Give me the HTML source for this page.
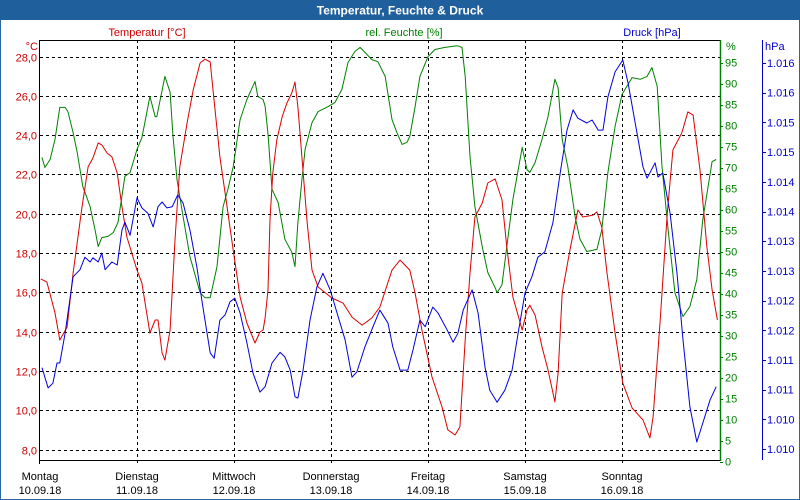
<!DOCTYPE html>
<html><head><meta charset="utf-8"><style>
html,body{margin:0;padding:0;background:#fff;}
svg{display:block;font-family:"Liberation Sans",sans-serif;}
</style></head><body>
<svg id="chart" width="800" height="500" viewBox="0 0 800 500">
<rect x="0.5" y="0.5" width="799" height="499" fill="#fff" stroke="#2b67a3"/>
<rect x="0" y="0" width="800" height="20" fill="#1f5f9b"/>
<text x="400" y="14.5" text-anchor="middle" font-size="12" font-weight="bold" fill="#fff">Temperatur, Feuchte &amp; Druck</text>
<text x="147" y="36" text-anchor="middle" font-size="11" fill="#cc0000">Temperatur [°C]</text>
<text x="404" y="36" text-anchor="middle" font-size="11" fill="#008000">rel. Feuchte [%]</text>
<text x="652" y="36" text-anchor="middle" font-size="11" fill="#0000cc">Druck [hPa]</text>
<text x="38" y="50" text-anchor="end" font-size="11" fill="#cc0000">°C</text>
<text x="726" y="50" font-size="11" fill="#008000">%</text>
<text x="765" y="50" font-size="11" fill="#0000cc">hPa</text>
<g id="grid"></g>
<g id="axes"></g>
<g id="series"></g>
</svg>
<script>
const dayNames = ["Montag","Dienstag","Mittwoch","Donnerstag","Freitag","Samstag","Sonntag"];
const dayDates = ["10.09.18","11.09.18","12.09.18","13.09.18","14.09.18","15.09.18","16.09.18"];
const tempTicks = [28,26,24,22,20,18,16,14,12,10,8];
const humTicks = [95,90,85,80,75,70,65,60,55,50,45,40,35,30,25,20,15,10,5,0];
const pressTicks = [1016.5,1016,1015.5,1015,1014.5,1014,1013.5,1013,1012.5,1012,1011.5,1011,1010.5,1010];
const pressTickLabels = ["1.016","1.016","1.015","1.015","1.014","1.014","1.013","1.013","1.012","1.012","1.011","1.011","1.010","1.010"];

const tempHours = [0.2,1.7,3.7,4.9,6.7,8.2,10.4,11.9,13.1,14.4,15.3,16.6,17.8,19.1,20.3,21.5,24.0,25.2,27.2,28.5,29.2,30.2,30.9,32.2,33.4,34.6,36.4,37.9,39.6,40.8,42.1,42.8,44.5,46.3,47.8,49.5,51.2,53.2,54.4,55.2,55.7,56.4,56.9,57.6,58.6,59.9,61.1,62.3,63.1,63.8,64.8,66.1,67.3,68.8,72.2,75.0,77.2,79.7,82.1,84.1,87.1,89.1,91.5,92.8,94.5,97.0,99.5,100.9,102.7,103.9,105.2,106.4,107.6,109.4,110.8,112.6,114.3,115.5,117.0,119.3,120.5,121.2,122.5,124.2,125.7,127.4,128.2,129.2,131.1,133.1,134.3,136.8,137.8,139.0,140.3,142.3,144.2,146.5,149.2,150.9,151.7,153.4,155.2,156.6,158.8,160.3,161.6,163.3,165.0,166.3,167.6];
const tempValues = [16.68,16.52,14.95,13.57,14.23,16.98,20.34,22.38,22.83,23.6,23.5,23.09,22.89,22.07,20.34,18.81,17.13,16.47,13.93,14.59,14.59,12.91,12.55,14.08,18.66,22.38,24.62,26.3,27.67,27.87,27.72,26.3,22.89,20.34,18.15,15.76,14.44,13.42,13.98,14.08,14.69,16.12,19.7,22.07,23.75,24.92,25.63,26.14,26.7,25.43,22.89,19.53,17.13,16.27,15.71,15.45,14.74,14.33,14.69,15.25,17.13,17.64,17.13,15.96,14.08,11.69,10.16,9.0,8.74,9.15,13.57,16.98,19.83,20.54,21.56,21.77,20.7,18.3,15.76,14.08,15.1,15.35,14.84,13.22,12.05,10.42,11.89,15.96,18.15,20.19,19.83,19.93,20.09,19.32,16.98,13.93,11.38,10.11,9.5,8.59,9.66,14.44,20.04,23.24,24.11,25.18,25.02,22.22,18.3,16.12,14.59];

const humHours = [0.5,1.2,2.5,3.7,4.9,6.2,6.9,8.2,9.2,10.6,12.4,13.6,14.4,15.3,16.8,18.1,19.3,21.0,22.3,24.0,25.2,27.2,28.5,28.9,30.9,32.2,32.9,33.9,35.4,37.1,39.6,40.8,42.1,43.8,45.3,46.5,47.8,49.5,51.2,53.2,53.9,55.2,55.7,56.4,57.4,58.9,60.6,62.3,63.1,63.8,64.8,65.6,67.3,68.8,71.3,73.0,74.7,76.2,77.9,79.2,80.4,82.1,83.6,85.4,87.1,88.3,89.6,90.8,91.5,92.8,94.0,96.0,97.7,100.2,103.2,104.4,105.2,106.4,107.6,109.4,110.8,112.6,113.1,114.3,115.5,117.0,119.3,120.5,121.2,122.5,124.2,125.7,127.4,128.2,129.2,130.6,132.4,133.6,135.3,137.8,139.0,140.5,142.3,144.0,146.5,148.5,150.2,151.4,152.7,153.9,155.4,157.1,159.1,160.8,162.5,164.0,166.3,167.3];
const humValues = [72.4,70.0,71.9,76.7,84.3,84.3,83.3,78.3,73.6,65.5,60.7,55.2,51.2,53.3,53.6,54.5,56.9,67.9,68.8,74.3,77.1,86.9,82.1,82.1,91.7,87.9,77.4,67.1,58.3,48.8,40.2,39.0,39.0,46.4,60.7,64.8,70.2,81.4,86.2,90.5,86.9,86.2,84.6,78.0,64.8,61.7,52.9,49.8,46.4,56.9,67.1,74.3,80.7,83.3,84.5,85.5,88.6,95.0,97.6,98.6,97.4,95.7,95.2,91.7,81.4,78.3,75.5,76.0,77.4,84.5,91.7,96.4,98.1,98.6,99.0,98.6,91.7,72.6,60.7,51.2,45.0,41.4,40.2,42.1,51.2,62.4,74.8,69.5,68.8,71.2,76.7,82.1,91.0,89.0,76.7,70.2,58.3,52.9,50.0,50.5,55.2,68.8,79.8,87.4,91.4,91.0,91.7,93.8,89.3,70.2,55.2,40.2,34.5,36.9,43.3,57.6,71.4,71.9];

const pressHours = [0.5,2.0,3.2,4.2,4.9,6.2,8.2,9.9,11.1,12.4,13.1,14.4,15.3,16.1,17.8,19.1,20.3,21.0,22.3,24.0,25.2,26.7,28.0,29.2,30.2,31.4,32.7,34.1,35.4,37.1,38.8,40.3,42.1,43.1,44.5,45.8,47.0,48.2,49.5,51.2,52.7,54.4,55.7,57.4,59.4,60.6,61.9,63.1,63.8,65.1,66.8,68.5,70.0,71.8,73.5,75.5,77.2,78.4,80.4,82.4,84.1,86.1,87.3,89.1,91.0,92.3,94.0,95.3,97.2,98.5,100.7,102.2,103.4,104.7,106.9,108.4,110.1,111.3,113.1,115.0,116.8,118.3,120.0,121.7,123.2,124.9,126.9,128.7,130.4,131.9,133.1,135.3,136.6,138.1,139.3,140.5,142.3,144.2,145.5,147.7,149.2,150.2,152.2,152.9,154.1,155.9,157.6,159.1,160.8,162.5,164.0,165.8,167.3];
const pressValues = [1011.37,1011.03,1011.11,1011.45,1011.45,1011.95,1012.90,1013.02,1013.23,1013.15,1013.22,1013.15,1013.30,1013.02,1013.15,1013.10,1013.69,1013.82,1013.60,1014.23,1014.06,1013.97,1013.74,1014.08,1014.16,1014.06,1014.08,1014.28,1014.14,1013.69,1013.07,1012.39,1011.62,1011.53,1012.17,1012.26,1012.48,1012.54,1012.29,1011.79,1011.28,1010.96,1011.05,1011.45,1011.63,1011.55,1011.33,1010.88,1010.86,1011.33,1012.17,1012.73,1012.96,1012.68,1012.29,1011.84,1011.21,1011.30,1011.72,1012.06,1012.34,1012.12,1011.72,1011.33,1011.33,1011.67,1012.17,1012.06,1012.39,1012.29,1012.01,1011.80,1011.95,1012.34,1012.68,1012.29,1011.38,1010.99,1010.79,1010.99,1011.33,1011.95,1012.63,1012.90,1013.23,1013.32,1013.81,1014.65,1015.37,1015.71,1015.57,1015.49,1015.54,1015.37,1015.37,1015.93,1016.35,1016.55,1016.16,1015.32,1014.75,1014.56,1014.82,1014.58,1014.65,1013.97,1012.96,1011.84,1010.71,1010.12,1010.44,1010.83,1011.05];

const NS = "http://www.w3.org/2000/svg";
const PL = 40, PR = 720, PT = 40, PB = 460, DAYW = 97;
function xH(h){ return PL + h / 24 * DAYW; }
function yT(t){ return 56.5 + (28 - t) * 19.65; }
function yHum(v){ return 461.5 - v * 4.2; }
function yP(p){ return 63 + (1016.5 - p) * 59.4; }
function mk(tag, attrs, parent){
  const e = document.createElementNS(NS, tag);
  for (const k in attrs) e.setAttribute(k, attrs[k]);
  parent.appendChild(e); return e;
}
const grid = document.getElementById('grid');
const axes = document.getElementById('axes');
const series = document.getElementById('series');

tempTicks.forEach(t => {
  const y = Math.round(yT(t)) + 0.5;
  const l = mk('line', {x1:PL, x2:PR, y1:y, y2:y, stroke:'#000', 'stroke-dasharray':'3,3', 'stroke-width':1}, grid);
  
  
  const tx = mk('text', {x:37, y:y+4, 'text-anchor':'end', 'font-size':11, fill:'#cc0000'}, axes);
  tx.textContent = t.toFixed(1).replace('.', ',');
  
  
});
for (let d = 1; d < 7; d++) {
  const x = Math.round(PL + d * DAYW) + 0.5;
  const l = mk('line', {x1:x, x2:x, y1:PT, y2:PB+4, stroke:'#000', 'stroke-dasharray':'3,3'}, grid);
  
  
}
dayNames.forEach((n, i) => {
  const x = PL + i * DAYW;
  const a = mk('text', {x:x, y:480, 'text-anchor':'middle', 'font-size':11, fill:'#000'}, axes);
  a.textContent = n;
  
  
  const b = mk('text', {x:x, y:494, 'text-anchor':'middle', 'font-size':11, fill:'#000'}, axes);
  b.textContent = dayDates[i];
  
  
});
let f = mk('line', {x1:PL-0.5, x2:PL-0.5, y1:PT, y2:PB+4, stroke:'#000'}, axes);


f = mk('line', {x1:PL, x2:PR, y1:PT+0.5, y2:PT+0.5, stroke:'#000'}, axes);


f = mk('line', {x1:PL, x2:PR, y1:PB+0.5, y2:PB+0.5, stroke:'#000'}, axes);


f = mk('line', {x1:PR+0.5, x2:PR+0.5, y1:PT, y2:PB+1, stroke:'#008000', 'stroke-width':1.5}, axes);


humTicks.forEach(h => {
  const y = yHum(h);
  const tk = mk('line', {x1:PR, x2:PR+3, y1:Math.round(y)+0.5, y2:Math.round(y)+0.5, stroke:'#008000'}, axes);
  
  
  const tx = mk('text', {x:725, y:y+4, 'font-size':11, fill:'#008000'}, axes);
  tx.textContent = h;
  
  
});
f = mk('line', {x1:762.5, x2:762.5, y1:PT, y2:PB, stroke:'#0000cc'}, axes);


pressTicks.forEach((p, i) => {
  const y = yP(p);
  const tk = mk('line', {x1:762, x2:766, y1:Math.round(y)+0.5, y2:Math.round(y)+0.5, stroke:'#0000cc'}, axes);
  
  
  const tx = mk('text', {x:767, y:y+4, 'font-size':11, fill:'#0000cc'}, axes);
  tx.textContent = pressTickLabels[i];
  
  
});
function line(hours, vals, yf, color){
  const d = hours.map((h, i) => (i ? 'L' : 'M') + xH(h).toFixed(1) + ',' + yf(vals[i]).toFixed(1)).join('');
  return mk('path', {d:d, fill:'none', stroke:color, 'stroke-width':1, 'stroke-linejoin':'round'}, series);
}
const gl = line(humHours, humValues, yHum, '#008000');


const tl = line(tempHours, tempValues, yT, '#dd0000');


const pl = line(pressHours, pressValues, yP, '#0000dd');


</script>
</body></html>
